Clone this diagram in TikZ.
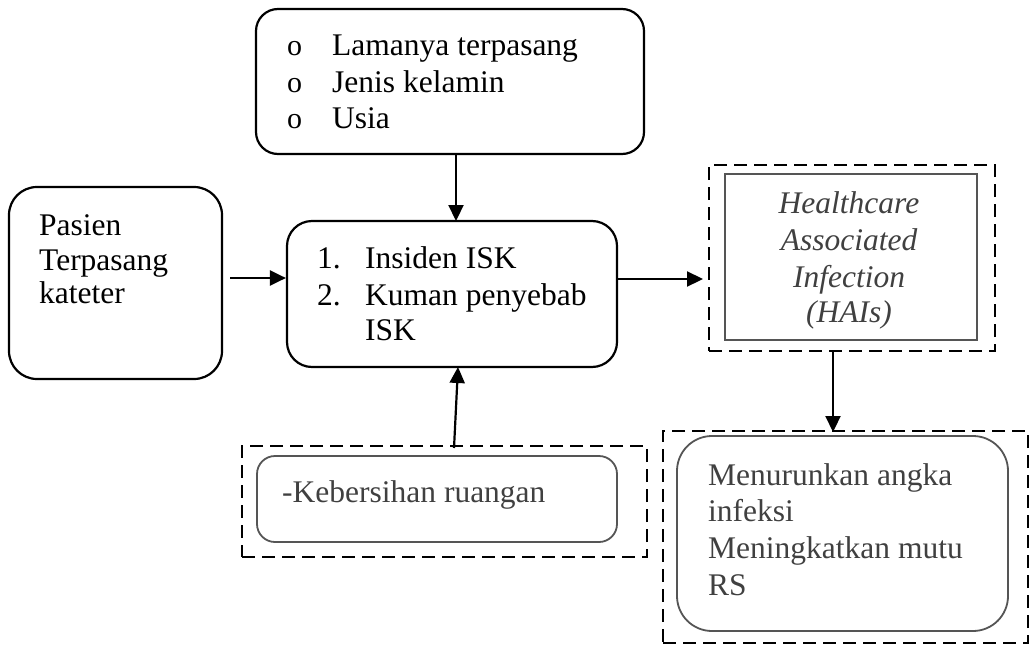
\documentclass[tikz,border=0pt]{standalone}
\usepackage{fontspec}
\setmainfont{Liberation Serif}
\usetikzlibrary{arrows.meta}
\definecolor{dgray}{HTML}{404040}
\definecolor{bgray}{HTML}{555555}
\tikzset{
  box/.style={draw=black, line width=2.2pt, rounded corners=#1, inner sep=0pt},
  gbox/.style={draw=bgray, line width=1.8pt, rounded corners=#1, inner sep=0pt},
  dbox/.style={draw=black, line width=1.9pt, dash pattern=on 13pt off 7pt, inner sep=0pt},
  txt/.style={anchor=base west, inner sep=0pt, font=\fontsize{31.5}{36}\selectfont},
  btxt/.style={anchor=base west, inner sep=0pt, font=\fontsize{30}{36}\selectfont},
  gtxt/.style={txt, text=dgray},
  itxt/.style={anchor=base, inner sep=0pt, text=dgray, font=\fontsize{31.5}{36}\selectfont\itshape},
  arr/.style={line width=2.2pt, -{Triangle[length=16pt,width=15pt]}}
}
\begin{document}
\begin{tikzpicture}[x=1pt,y=-1pt]
\useasboundingbox (0,0) rectangle (1030,645);
% boxes
\node[box=22pt, minimum width=388pt, minimum height=145pt] (top) at (450,81.5) {};
\node[box=28pt, minimum width=213pt, minimum height=192pt] (left) at (115.5,283) {};
\node[box=25pt, minimum width=330pt, minimum height=146pt] (mid) at (452,294) {};
\node[dbox, minimum width=286pt, minimum height=186pt] (haid) at (852,258) {};
\node[draw=bgray, line width=1.9pt, inner sep=0pt, minimum width=252pt, minimum height=166pt] (hai) at (851,257) {};
\node[dbox, minimum width=365pt, minimum height=212pt] (outd) at (845.5,537) {};
\node[gbox=35pt, minimum width=331pt, minimum height=195pt] (out) at (842.5,533.5) {};
\node[dbox, minimum width=405pt, minimum height=111pt] (kebd) at (444.5,501.5) {};
\node[gbox=18pt, minimum width=360pt, minimum height=86pt] (keb) at (437,499) {};
% texts: top
\node[btxt] (b1) at (287,55) {o};
\node[txt] (t1) at (332,55) {Lamanya terpasang};
\node[btxt] (b2) at (287,92) {o};
\node[txt] (t2) at (332,92) {Jenis kelamin};
\node[btxt] (b3) at (287,128) {o};
\node[txt] (t3) at (332,128) {Usia};
% left
\node[txt] (l1) at (39,235) {Pasien};
\node[txt] (l2) at (39,270) {Terpasang};
\node[txt] (l3) at (39,303) {kateter};
% middle
\node[txt] (n1) at (317,268) {1.};
\node[txt] (m1) at (365,268) {Insiden ISK};
\node[txt] (n2) at (317,305) {2.};
\node[txt] (m2) at (365,305) {Kuman penyebab};
\node[txt] (m3) at (365,340) {ISK};
% HAIs
\node[itxt] (h1) at (849,213) {Healthcare};
\node[itxt] (h2) at (849,250) {Associated};
\node[itxt] (h3) at (849,287) {Infection};
\node[itxt] (h4) at (849,322) {(HAIs)};
% outcome
\node[gtxt] (o1) at (708,485) {Menurunkan angka};
\node[gtxt] (o2) at (708,521) {infeksi};
\node[gtxt] (o3) at (708,558) {Meningkatkan mutu};
\node[gtxt] (o4) at (708,595) {RS};
% kebersihan
\node[gtxt] (k1) at (282,502) {-Kebersihan ruangan};
% arrows
\coordinate (a1s) at (456,154);
\coordinate (a1e) at (456,221);
\draw[arr] (top.south -| a1s) -- (a1e);
\coordinate (a2s) at (230,278);
\draw[arr] (a2s) -- (mid.west |- a2s);
\coordinate (a3e) at (703,279);
\draw[arr] (mid.east |- a3e) -- (a3e);
\coordinate (a4s) at (833,351);
\coordinate (a4e) at (833,432);
\draw[arr] (a4s) -- (a4e);
\coordinate (a5s) at (454,448);
\coordinate (a5e) at (458,367);
\draw[arr] (a5s) -- (a5e);
\end{tikzpicture}
\end{document}
